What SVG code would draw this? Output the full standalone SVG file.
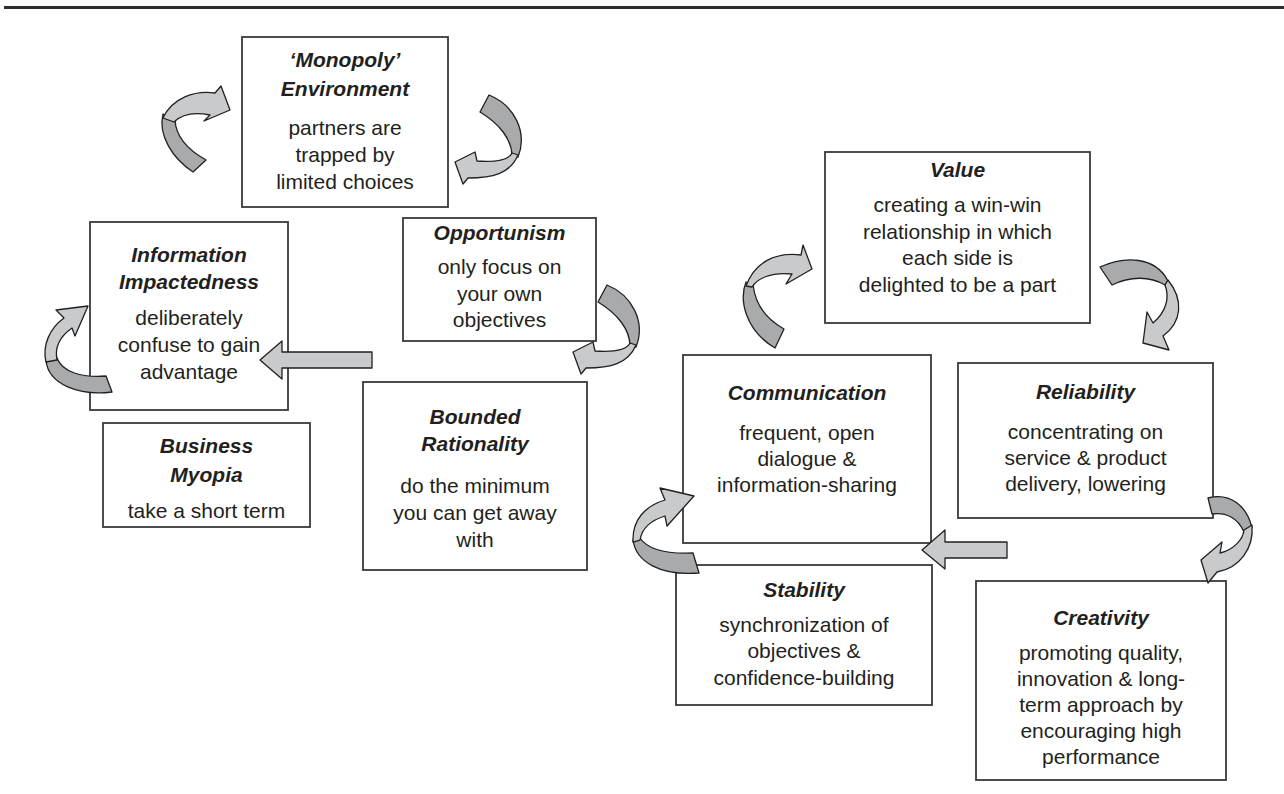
<svg xmlns="http://www.w3.org/2000/svg" width="1284" height="794" viewBox="0 0 1284 794">
<style>
.bx{fill:#fff;stroke:#3a3a3a;stroke-width:1.8}
.t{font-family:"Liberation Sans",Arial,sans-serif;font-size:21px;fill:#231f20;text-anchor:middle}
.h{font-weight:bold;font-style:italic}
.lt{fill:#c9cacc;stroke:#231f20;stroke-width:1.3;stroke-linejoin:round}
.dk{fill:#a9aaac;stroke:#231f20;stroke-width:1.3;stroke-linejoin:round}
</style>
<rect x="4" y="6" width="1280" height="3" fill="#2e2e2e"/>

<g id="monopoly">
<rect class="bx" x="242" y="37" width="206" height="170"/>
<text class="t h" x="345" y="67">‘Monopoly’</text>
<text class="t h" x="345" y="96">Environment</text>
<text class="t" x="345" y="135">partners are</text>
<text class="t" x="345" y="162">trapped by</text>
<text class="t" x="345" y="189">limited choices</text>
</g>
<g id="information">
<rect class="bx" x="90" y="222" width="198" height="188"/>
<text class="t h" x="189" y="262">Information</text>
<text class="t h" x="189" y="289">Impactedness</text>
<text class="t" x="189" y="325">deliberately</text>
<text class="t" x="189" y="352">confuse to gain</text>
<text class="t" x="189" y="379">advantage</text>
</g>
<g id="myopia">
<rect class="bx" x="103" y="423" width="207" height="104"/>
<text class="t h" x="206.5" y="453">Business</text>
<text class="t h" x="206.5" y="482">Myopia</text>
<text class="t" x="206.5" y="518">take a short term</text>
</g>
<g id="opportunism">
<rect class="bx" x="403" y="218" width="193" height="123"/>
<text class="t h" x="499.5" y="240">Opportunism</text>
<text class="t" x="499.5" y="274">only focus on</text>
<text class="t" x="499.5" y="301">your own</text>
<text class="t" x="499.5" y="327">objectives</text>
</g>
<g id="bounded">
<rect class="bx" x="363" y="382" width="224" height="188"/>
<text class="t h" x="475" y="424">Bounded</text>
<text class="t h" x="475" y="451">Rationality</text>
<text class="t" x="475" y="493">do the minimum</text>
<text class="t" x="475" y="520">you can get away</text>
<text class="t" x="475" y="547">with</text>
</g>
<g id="value">
<rect class="bx" x="825" y="152" width="265" height="171"/>
<text class="t h" x="957.5" y="177">Value</text>
<text class="t" x="957.5" y="212">creating a win-win</text>
<text class="t" x="957.5" y="239">relationship in which</text>
<text class="t" x="957.5" y="265">each side is</text>
<text class="t" x="957.5" y="292">delighted to be a part</text>
</g>
<g id="communication">
<rect class="bx" x="683" y="355" width="248" height="188"/>
<text class="t h" x="807" y="400">Communication</text>
<text class="t" x="807" y="440">frequent, open</text>
<text class="t" x="807" y="466">dialogue &amp;</text>
<text class="t" x="807" y="492">information-sharing</text>
</g>
<g id="reliability">
<rect class="bx" x="958" y="363" width="255" height="155"/>
<text class="t h" x="1085.5" y="399">Reliability</text>
<text class="t" x="1085.5" y="439">concentrating on</text>
<text class="t" x="1085.5" y="465">service &amp; product</text>
<text class="t" x="1085.5" y="491">delivery, lowering</text>
</g>
<g id="stability">
<rect class="bx" x="676" y="565" width="256" height="140"/>
<text class="t h" x="804" y="597">Stability</text>
<text class="t" x="804" y="632">synchronization of</text>
<text class="t" x="804" y="658">objectives &amp;</text>
<text class="t" x="804" y="685">confidence-building</text>
</g>
<g id="creativity">
<rect class="bx" x="976" y="581" width="250" height="199"/>
<text class="t h" x="1101" y="625">Creativity</text>
<text class="t" x="1101" y="660">promoting quality,</text>
<text class="t" x="1101" y="686">innovation &amp; long-</text>
<text class="t" x="1101" y="712">term approach by</text>
<text class="t" x="1101" y="738">encouraging high</text>
<text class="t" x="1101" y="764">performance</text>
</g>

<g id="connectors">
<!-- A1 left of Monopoly -->
<path class="dk" d="M 163,114 C 158,135 172,158 193,172 L 206,160 C 188,150 176,138 175,120 Z"/>
<path class="lt" d="M 215,93 C 195,90 172,98 163,118 L 174,122 C 182,114 195,112 210,115 L 204,121 L 230,110 L 221,86 Z"/>
<!-- A2 right of Monopoly -->
<path class="dk" d="M 489,95 C 514,105 528,132 518,157 L 512,156 C 512,140 500,124 480,112 Z"/>
<path class="lt" d="M 518,155 C 510,174 492,178 468,178 L 463,184 L 455,162 L 475,152 L 477,161 C 494,162 509,160 512,153 Z"/>
<!-- A3 right of Opportunism -->
<path class="dk" d="M 607,285 C 632,295 646,322 636,347 L 630,346 C 630,330 618,314 598,302 Z"/>
<path class="lt" d="M 636,345 C 628,364 610,368 586,368 L 581,374 L 573,352 L 593,342 L 595,351 C 612,352 627,350 630,343 Z"/>
<!-- A4 left of Information -->
<path class="dk" d="M 46,360 C 48,385 80,396 112,392 L 106,376 C 82,378 62,372 57,358 Z"/>
<path class="lt" d="M 57,360 C 54,345 62,335 72,328 L 75,336 L 88,306 L 56,310 L 64,318 C 50,328 42,345 46,362 Z"/>
<!-- A5 left of Value -->
<path class="dk" d="M 746,282 C 739,300 745,330 775,348 L 784,329 C 768,320 755,305 753,284 Z"/>
<path class="lt" d="M 801,255 C 775,252 755,262 746,286 L 752,287 C 757,279 770,272 792,274 L 786,284 L 812,269 L 803,245 Z"/>
<!-- A6 right of Value -->
<path class="dk" d="M 1100,267 C 1125,256 1155,256 1168,281 L 1165,285 C 1150,276 1130,276 1112,285 Z"/>
<path class="lt" d="M 1168,280 C 1184,300 1182,322 1163,336 L 1169,350 L 1143,343 L 1147,312 L 1153,323 C 1166,312 1170,298 1165,285 Z"/>
<!-- A7 left of Communication -->
<path class="dk" d="M 633,540 C 636,562 660,576 699,573 L 693,553 C 668,554 648,550 640,538 Z"/>
<path class="lt" d="M 640,540 C 642,528 652,520 665,516 L 667,526 L 694,496 L 660,488 L 665,500 C 645,506 632,520 633,542 Z"/>
<!-- A8 right of Reliability -->
<path class="dk" d="M 1208,498 C 1230,492 1247,506 1252,528 L 1244,532 C 1238,518 1226,512 1212,514 Z"/>
<path class="lt" d="M 1252,525 C 1254,548 1240,568 1217,572 L 1208,583 L 1201,560 L 1222,542 L 1220,553 C 1233,550 1243,540 1244,530 Z"/>
<!-- straight arrows -->
<path class="lt" d="M 372,352 L 282,352 L 282,341 L 260,360 L 282,379 L 282,368 L 372,368 Z"/>
<path class="lt" d="M 1007,542 L 945,542 L 945,530 L 922,550 L 945,569 L 945,558 L 1007,558 Z"/>
</g>
</svg>
